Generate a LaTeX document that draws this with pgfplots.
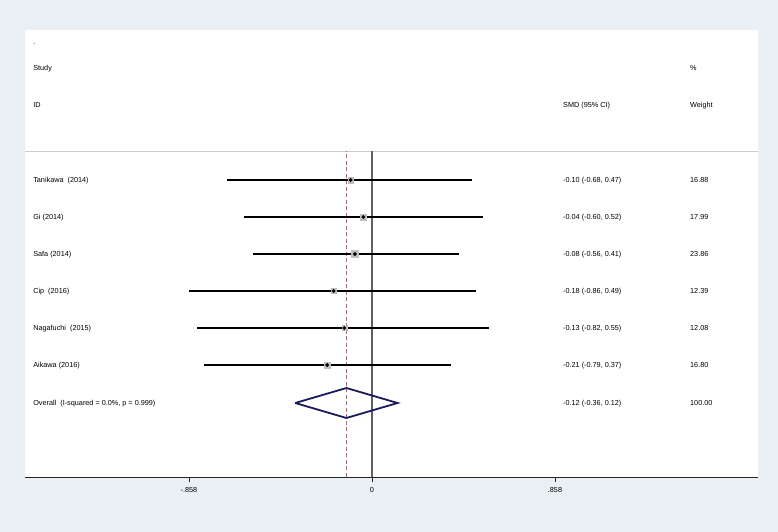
\documentclass[border=0pt]{standalone}
\usepackage{fontspec}
\setmainfont{Liberation Sans}
\usepackage{pgfplots}
\usepackage{pgfplotstable}
\pgfplotsset{compat=1.18}
\definecolor{stataBg}{RGB}{233,239,242}
\definecolor{stataNavy}{RGB}{26,26,92}
\definecolor{refRed}{RGB}{192,96,96}

% study rows: y position, estimate, CI, weight
\pgfplotstableread{
y   est   lo    hi   w
297 -0.10 -0.68 0.47 16.88
260 -0.04 -0.60 0.52 17.99
223 -0.08 -0.56 0.41 23.86
186 -0.18 -0.86 0.49 12.39
149 -0.13 -0.82 0.55 12.08
112 -0.21 -0.79 0.37 16.80
}\studies

\begin{document}
\begin{tikzpicture}[font=\fontsize{7.3}{8.5}\selectfont]
\fill[stataBg] (-25bp,-55bp) rectangle (753bp,477bp);
\begin{axis}[
  width=733bp,height=447bp,scale only axis,
  xmin=-1.627,xmax=1.81,ymin=0,ymax=447,
  axis background/.style={fill=white},
  axis x line*=bottom,axis y line=none,
  axis line style={black!85,line width=0.9pt},
  xtick={-0.858,0,0.858},xticklabels={-.858,0,.858},
  tick align=outside,major tick length=5bp,
  tick style={black!85,line width=0.9pt},
  tick label style={font=\fontsize{7.3}{8.5}\selectfont},
  xticklabel style={yshift=-2bp},
  clip=false,
]
% header rule
\addplot[black!20,line width=0.6pt] coordinates {(-1.627,326) (1.81,326)};
% null line and overall estimate line
\addplot[black!62,line width=1.1pt] coordinates {(0,0) (0,326)};
\addplot[refRed,line width=0.7pt,dash pattern=on 4bp off 2.5bp] coordinates {(-0.12,0) (-0.12,326)};
% confidence intervals
\addplot[only marks,mark=none,
  error bars/.cd,x dir=both,x explicit,error mark=none,
  error bar style={black,line width=1.4pt}]
  table[x=est,y=y,
        x error plus expr=\thisrow{hi}-\thisrow{est},
        x error minus expr=\thisrow{est}-\thisrow{lo}] {\studies};
% weight boxes
\addplot[scatter,only marks,mark=square*,
  scatter/use mapped color={draw=black!25,fill=black!25},
  visualization depends on={0.72*sqrt(\thisrow{w}) \as \msize},
  scatter/@pre marker code/.append style={/tikz/mark size=\msize}]
  table[x=est,y=y] {\studies};
% point estimates
\addplot[only marks,mark=*,mark size=1.7pt,black] table[x=est,y=y] {\studies};
% overall diamond
\addplot[stataNavy,line width=1.8pt,line join=miter] coordinates {
  (-0.36,74) (-0.12,89) (0.12,74) (-0.12,59) (-0.36,74)};
% text columns
\begin{scope}[every node/.style={anchor=base west,inner sep=0pt,yshift=-2.6bp}]
\node at (axis cs:-1.589,435) {.};
\node at (axis cs:-1.589,409) {Study};
\node at (axis cs:-1.589,372) {ID};
\node at (axis cs:1.491,409) {\%};
\node at (axis cs:0.8955,372) {SMD (95\% CI)};
\node at (axis cs:1.491,372) {Weight};
\node at (axis cs:-1.589,297) {Tanikawa\ \ (2014)};
\node at (axis cs:-1.589,260) {Gi (2014)};
\node at (axis cs:-1.589,223) {Safa (2014)};
\node at (axis cs:-1.589,186) {Cip\ \ (2016)};
\node at (axis cs:-1.589,149) {Nagafuchi\ \ (2015)};
\node at (axis cs:-1.589,112) {Aikawa (2016)};
\node at (axis cs:-1.589,74) {Overall\ \ (I-squared = 0.0\%, p = 0.999)};
\node at (axis cs:0.8955,297) {-0.10 (-0.68, 0.47)};
\node at (axis cs:0.8955,260) {-0.04 (-0.60, 0.52)};
\node at (axis cs:0.8955,223) {-0.08 (-0.56, 0.41)};
\node at (axis cs:0.8955,186) {-0.18 (-0.86, 0.49)};
\node at (axis cs:0.8955,149) {-0.13 (-0.82, 0.55)};
\node at (axis cs:0.8955,112) {-0.21 (-0.79, 0.37)};
\node at (axis cs:0.8955,74) {-0.12 (-0.36, 0.12)};
\node at (axis cs:1.491,297) {16.88};
\node at (axis cs:1.491,260) {17.99};
\node at (axis cs:1.491,223) {23.86};
\node at (axis cs:1.491,186) {12.39};
\node at (axis cs:1.491,149) {12.08};
\node at (axis cs:1.491,112) {16.80};
\node at (axis cs:1.491,74) {100.00};
\end{scope}
\end{axis}
\end{tikzpicture}
\end{document}
